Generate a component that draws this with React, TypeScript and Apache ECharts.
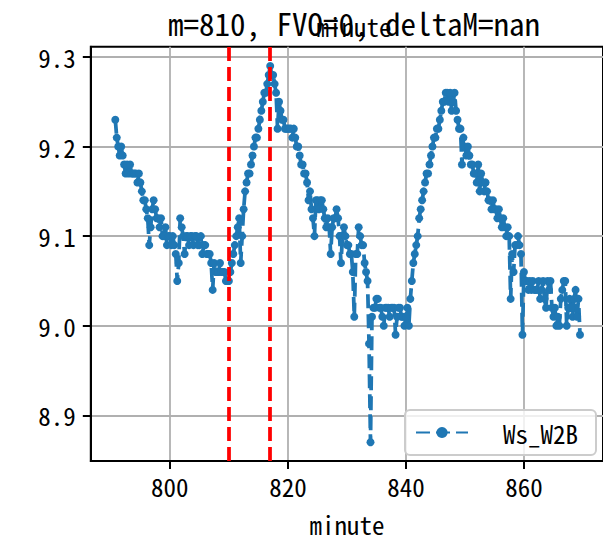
import React, { useEffect, useRef } from "react";
import * as echarts from "echarts";

// time axis: first sample minute and sampling step (minutes)
const startMinute = 790.75;
const stepMinute = 0.25;

// Ws_W2B values, one row per minute (.00, .25, .50, .75)
const wsW2B: number[] = [
  9.23,
  9.21, 9.20, 9.19, 9.20,
  9.19, 9.18, 9.17, 9.18,
  9.17, 9.18, 9.17, 9.17,
  9.17, 9.17, 9.16, 9.17,
  9.16, 9.15, 9.14, 9.14,
  9.13, 9.12, 9.09, 9.11,
  9.13, 9.14, 9.13, 9.12,
  9.12, 9.11, 9.12, 9.10,
  9.10, 9.11, 9.09, 9.10,
  9.10, 9.09, 9.10, 9.09,
  9.08, 9.05, 9.07, 9.12,
  9.11, 9.10, 9.08, 9.10,
  9.10, 9.09, 9.10, 9.10,
  9.09, 9.10, 9.10, 9.09,
  9.09, 9.10, 9.08, 9.09,
  9.09, 9.08, 9.08, 9.08,
  9.07, 9.04, 9.07, 9.06,
  9.06, 9.06, 9.07, 9.06,
  9.06, 9.06, 9.05, 9.05,
  9.05, 9.06, 9.07, 9.08,
  9.09, 9.10, 9.11, 9.12,
  9.07, 9.10, 9.13, 9.15,
  9.16, 9.17, 9.17, 9.18,
  9.19, 9.20, 9.21, 9.21,
  9.22, 9.23, 9.24, 9.25,
  9.26, 9.26, 9.27, 9.28,
  9.29, 9.28, 9.28, 9.27,
  9.26, 9.22, 9.25, 9.24,
  9.23, 9.23, 9.22, 9.22,
  9.22, 9.22, 9.22, 9.21,
  9.22, 9.21, 9.20, 9.20,
  9.19, 9.18, 9.18, 9.17,
  9.17, 9.16, 9.14, 9.15,
  9.13, 9.12, 9.10, 9.14,
  9.14, 9.13, 9.14, 9.14,
  9.13, 9.12, 9.11, 9.12,
  9.11, 9.08, 9.11, 9.12,
  9.12, 9.13, 9.12, 9.10,
  9.07, 9.10, 9.11, 9.10,
  9.09, 9.09, 9.08, 9.08,
  9.06, 9.01, 9.08, 9.08,
  9.11, 9.10, 9.09, 9.09,
  9.07, 9.06, 9.05, 8.98,
  8.87, 9.01, 9.02, 9.02,
  9.03, 9.03, 9.02, 9.02,
  9.01, 9.00, 9.02, 9.02,
  9.02, 9.01, 9.02, 9.02,
  9.02, 8.99, 9.01, 9.02,
  9.02, 9.01, 9.01, 9.00,
  9.01, 9.02, 9.00, 9.03,
  9.05, 9.07, 9.08, 9.09,
  9.10, 9.12, 9.13, 9.14,
  9.15, 9.16, 9.17, 9.17,
  9.18, 9.19, 9.20, 9.21,
  9.21, 9.22, 9.22, 9.23,
  9.24, 9.25, 9.25, 9.26,
  9.26, 9.25, 9.26, 9.24,
  9.25, 9.26, 9.24, 9.23,
  9.22, 9.22, 9.18, 9.21,
  9.20, 9.19, 9.20, 9.19,
  9.18, 9.18, 9.17, 9.17,
  9.16, 9.18, 9.15, 9.17,
  9.16, 9.15, 9.16, 9.15,
  9.14, 9.14, 9.13, 9.14,
  9.13, 9.13, 9.12, 9.13,
  9.12, 9.11, 9.12, 9.11,
  9.10, 9.11, 9.10, 9.03,
  9.08, 9.06, 9.09, 9.09,
  9.10, 9.09, 9.08, 8.99,
  9.06, 9.05, 9.05, 9.04,
  9.05, 9.04, 9.05, 9.04,
  9.04, 9.04, 9.05, 9.03,
  9.04, 9.05, 9.03, 9.02,
  9.05, 9.04, 9.05, 9.02,
  9.01, 9.02, 9.00, 9.01,
  9.00, 9.03, 9.04, 9.05,
  9.05, 9.00, 9.02, 9.03,
  9.02, 9.01, 9.03, 9.04,
  9.01, 9.03, 8.99,
];

const markerMinutes = [810, 817];
const xTicks = [800, 820, 840, 860];
const yTicks = [8.9, 9.0, 9.1, 9.2, 9.3];
const seriesName = "Ws_W2B";
const titleText = "m=810, FVO=0, deltaM=nan";
const xName = "minute";

const FONT = "'Noto Sans Mono CJK SC', 'DejaVu Sans Mono', monospace";
const BLUE = "#1f77b4";

export default function App() {
  const ref = useRef<HTMLDivElement>(null);
  useEffect(() => {
    document.body.style.margin = "0";
    const chart = echarts.init(ref.current!, null, { renderer: "svg" });
    const points = wsW2B.map((v, i) => [startMinute + i * stepMinute, v]);
    const axisCommon = {
      axisLine: { show: true, lineStyle: { color: "#000", width: 2 } },
      axisTick: { show: true, length: 8, lineStyle: { color: "#000", width: 2 } },
      splitLine: { show: true, lineStyle: { color: "#b0b0b0", width: 1.8 } },
    };
    chart.setOption({
      animation: false,
      backgroundColor: "#fff",
      textStyle: { fontFamily: FONT },
      title: [
        {
          text: titleText,
          left: 349,
          top: 2,
          textAlign: "center",
          textStyle: { fontFamily: FONT, fontSize: 31, fontWeight: "normal", color: "#000" },
        },
        {
          text: xName,
          left: 349,
          top: 8,
          textAlign: "center",
          textStyle: { fontFamily: FONT, fontSize: 25, fontWeight: "normal", color: "#000" },
        },
      ],
      grid: {
        left: 90.8,
        top: 46.7,
        right: -3,
        bottom: 73.3,
        containLabel: false,
        show: true,
        borderColor: "#000",
        borderWidth: 2,
        backgroundColor: "transparent",
      },
      legend: {
        data: [seriesName],
        left: 405,
        top: 410,
        orient: "vertical",
        padding: [10, 18, 10, 10],
        itemWidth: 52,
        itemHeight: 14,
        backgroundColor: "rgba(255,255,255,0.8)",
        borderColor: "#cccccc",
        borderWidth: 2,
        borderRadius: 5,
        textStyle: { fontFamily: FONT, fontSize: 25, color: "#000", padding: [0, 0, 0, 30] },
      },
      xAxis: {
        type: "value",
        min: 786.6,
        max: 873.4,
        name: xName,
        nameLocation: "middle",
        nameGap: 50,
        nameTextStyle: { fontFamily: FONT, fontSize: 25, color: "#000" },
        ...axisCommon,
        axisTick: { ...axisCommon.axisTick, customValues: xTicks },
        axisLabel: {
          customValues: xTicks,
          fontFamily: FONT,
          fontSize: 25,
          color: "#000",
          margin: 12,
          formatter: (v: number) => String(v),
        },
      },
      yAxis: {
        type: "value",
        min: 8.849,
        max: 9.3115,
        ...axisCommon,
        axisTick: { ...axisCommon.axisTick, customValues: yTicks },
        axisLabel: {
          customValues: yTicks,
          fontFamily: FONT,
          fontSize: 25,
          color: "#000",
          margin: 15,
          formatter: (v: number) => v.toFixed(1),
        },
      },
      series: [
        {
          name: seriesName,
          type: "line",
          data: points,
          symbol: "circle",
          symbolSize: 8,
          showSymbol: true,
          showAllSymbol: true,
          color: BLUE,
          itemStyle: { color: BLUE },
          lineStyle: { color: BLUE, width: 3.75, type: [14, 6] },
          markLine: {
            silent: true,
            symbol: "none",
            label: { show: false },
            lineStyle: { color: "#ff0000", width: 3.75, type: [14, 6] },
            data: markerMinutes.map((m) => ({ xAxis: m })),
          },
          z: 3,
        },
      ],
    });
    return () => chart.dispose();
  }, []);
  return <div ref={ref} style={{ position: "absolute", left: 0, top: 0, width: 603, height: 541 }} />;
}
